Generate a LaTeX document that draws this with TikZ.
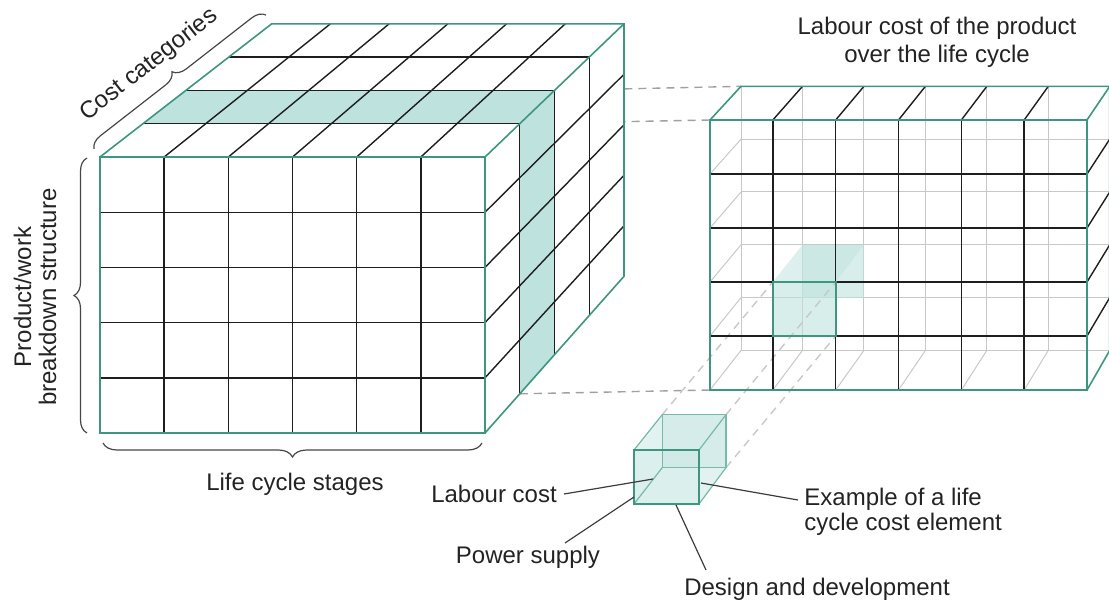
\documentclass[tikz,border=0pt]{standalone}
\usepackage{fontspec}
\setmainfont{Liberation Sans}
\usetikzlibrary{calc,decorations.pathreplacing}
\definecolor{edgegreen}{RGB}{62,150,128}
\definecolor{edgelight}{RGB}{120,185,168}
\definecolor{bandfill}{RGB}{190,226,222}
\definecolor{gridblack}{RGB}{30,30,30}
\definecolor{hidgrey}{RGB}{200,200,200}
\definecolor{dashgrey}{RGB}{160,160,160}
\definecolor{leadgrey}{RGB}{60,60,60}
\definecolor{bracegrey}{RGB}{70,70,70}
\definecolor{txt}{RGB}{35,35,35}
\begin{document}
\begin{tikzpicture}[x=0.5pt,y=-0.5pt,
  ge/.style={draw=edgegreen,line width=0.8pt},
  gel/.style={draw=edgelight,line width=0.6pt},
  gl/.style={draw=gridblack,line width=0.7pt},
  hl/.style={draw=hidgrey,line width=0.5pt},
  dsh/.style={draw=dashgrey,line width=0.7pt,dash pattern=on 4pt off 3pt},
  dshl/.style={draw=hidgrey,line width=0.7pt,dash pattern=on 4pt off 3pt},
  lead/.style={draw=leadgrey,line width=0.6pt},
  brc/.style={draw=bracegrey,line width=0.6pt,decorate,decoration={brace,amplitude=#1}},
  lbl/.style={font=\fontsize{12}{14}\selectfont,text=txt,inner sep=0pt}
]
\useasboundingbox (0,0) rectangle (1109,601);
\clip (0,0) rectangle (1109,601);
\coordinate (V) at (2120,-1410);
\def\rr{0.978}
% ---------- big cube ----------
\foreach \d/\s in {0/1,1/0.97875,2/0.9575,3/0.93625,4/0.915}{
  \coordinate (TL\d) at ($(V)!\s!(100,157)$);
  \coordinate (TR\d) at ($(V)!\s!(485,157)$);
  \coordinate (BR\d) at ($(V)!\s!(485,433)$);
}
% right cube key corners
\coordinate (RFTL) at (710,120);
\coordinate (RFBL) at (710,390);
\coordinate (RFTR) at (1087,120);
\coordinate (RFBR) at (1087,390);
\coordinate (RBTL) at ($(V)!\rr!(RFTL)$);
\coordinate (RBTR) at ($(V)!\rr!(RFTR)$);
\coordinate (RBBR) at ($(V)!\rr!(RFBR)$);
% dashed links big cube -> slice
\draw[dsh] (TR2) -- (RBTL);
\draw[dsh] (TR1) -- (RFTL);
\draw[dsh] (BR1) -- (RFBL);
\fill[white] (TL0) -- (TL4) -- (TR4) -- (BR4) -- (BR0) -- (TR0) -- cycle;
\fill[bandfill] (TL1) -- (TR1) -- (TR2) -- (TL2) -- cycle;
\fill[bandfill] (TR1) -- (BR1) -- (BR2) -- (TR2) -- cycle;
\foreach \i in {1,...,5}{
  \pgfmathsetmacro\xx{100+\i*385/6}
  \draw[gl] (\xx,157) -- ($(V)!0.915!(\xx,157)$);
}
\foreach \j in {1,...,4}{
  \pgfmathsetmacro\yy{157+\j*55.2}
  \draw[gl] (485,\yy) -- ($(V)!0.915!(485,\yy)$);
}
\foreach \d in {1,2,3}{
  \draw[gl] (TL\d) -- (TR\d) -- (BR\d);
}
\fill[white] (100,157) rectangle (485,433);
\foreach \i in {1,...,5}{
  \pgfmathsetmacro\xx{100+\i*385/6}
  \draw[gl] (\xx,157) -- (\xx,433);
}
\foreach \j in {1,...,4}{
  \pgfmathsetmacro\yy{157+\j*55.2}
  \draw[gl] (100,\yy) -- (485,\yy);
}
\draw[ge] (100,157) rectangle (485,433);
\draw[ge] (TL0) -- (TL4) -- (TR4) -- (BR4) -- (BR0);
\draw[ge] (TR0) -- (TR4);
% braces and labels of big cube
\draw[brc=6.5pt] (87,433) -- (87,158);
\draw[brc=7pt] (482,443) -- (103,443);
\draw[brc=6.5pt] (94,149) -- (266,15);
\node[lbl,rotate=90,align=center,font=\fontsize{12}{12.5}\selectfont] (pws) at (35,297) {Product/work\\breakdown structure};
\node[lbl] (lcs) at (295,484) {Life cycle stages};
\node[lbl,rotate=38] (cc) at (149,65) {Cost categories};
% ---------- right cube (slice) ----------
\foreach \i in {0,...,5}{
  \pgfmathsetmacro\xx{710+\i*377/6}
  \draw[hl] ($(V)!\rr!(\xx,120)$) -- ($(V)!\rr!(\xx,390)$);
}
\foreach \j in {1,...,5}{
  \pgfmathsetmacro\yy{120+\j*54}
  \draw[hl] ($(V)!\rr!(710,\yy)$) -- ($(V)!\rr!(1087,\yy)$);
  \draw[hl] (710,\yy) -- ($(V)!\rr!(710,\yy)$);
}
\foreach \i in {1,...,5}{
  \pgfmathsetmacro\xx{710+\i*377/6}
  \draw[hl] (\xx,390) -- ($(V)!\rr!(\xx,390)$);
}
% highlighted cell
\coordinate (HF1) at (772.83,282);
\coordinate (HF2) at (835.67,282);
\coordinate (HF3) at (835.67,336);
\coordinate (HF4) at (772.83,336);
\foreach \k in {1,2,3,4}{ \coordinate (HB\k) at ($(V)!\rr!(HF\k)$); }
\fill[bandfill,opacity=0.5] (HF1) -- (HB1) -- (HB2) -- (HF2) -- cycle;
\fill[bandfill,opacity=0.6] (HB1) -- (HB2) -- (HB3) -- (HB4) -- cycle;
\fill[bandfill,opacity=0.6] (HF1) -- (HF2) -- (HF3) -- (HF4) -- cycle;
% small cube corners
\coordinate (SF1) at (634,450);
\coordinate (SF2) at (699,450);
\coordinate (SF3) at (699,504);
\coordinate (SF4) at (634,504);
\foreach \k in {1,2,3,4}{ \coordinate (SB\k) at ($(V)!0.981!(SF\k)$); }
\draw[dshl] (SB1) -- (HF1);
\draw[dshl] (SB2) -- (HF2);
\draw[dshl] (SB3) -- (HF3);
% front grid of slice
\foreach \i in {1,...,5}{
  \pgfmathsetmacro\xx{710+\i*377/6}
  \draw[gl] (\xx,120) -- (\xx,390);
  \draw[gl] (\xx,120) -- ($(V)!\rr!(\xx,120)$);
}
\foreach \j in {1,...,4}{
  \pgfmathsetmacro\yy{120+\j*54}
  \draw[gl] (710,\yy) -- (1087,\yy);
  \draw[gl] (1087,\yy) -- ($(V)!\rr!(1087,\yy)$);
}
\draw[ge] (RFTL) rectangle (RFBR);
\draw[ge] (RFTL) -- (RBTL) -- (RBTR) -- (RBBR) -- (RFBR);
\draw[ge] (RFTR) -- (RBTR);
\draw[draw=edgegreen,line width=1.1pt] (HF1) rectangle (HF3);
% ---------- small cube ----------
\fill[bandfill,opacity=0.45] (SF1) -- (SB1) -- (SB2) -- (SB3) -- (SF3) -- (SF4) -- cycle;
\fill[bandfill,opacity=0.35] (SB1) -- (SB2) -- (SB3) -- (SB4) -- cycle;
\fill[bandfill,opacity=0.2] (SF1) -- (SF2) -- (SF3) -- (SF4) -- cycle;
\draw[gel] (SB1) -- (SB2) -- (SB3) -- (SB4) -- cycle;
\draw[gel] (SF1) -- (SB1) (SF2) -- (SB2) (SF3) -- (SB3) (SF4) -- (SB4);
\draw[ge] (SF1) -- (SF2) -- (SF3) -- (SF4) -- cycle;
% ---------- labels ----------
\node[lbl,align=center] (title) at (937,42) {Labour cost of the product\\over the life cycle};
\node[lbl] (lab) at (494,494) {Labour cost};
\node[lbl] (pow) at (528,557) {Power supply};
\node[lbl] (des) at (817,589) {Design and development};
\node[lbl,align=left,anchor=west,font=\fontsize{12}{12.5}\selectfont] (ex) at (804,512) {Example of a life\\cycle cost element};
\coordinate (labT) at (653,479);
\coordinate (labS) at (564,494);
\coordinate (powT) at (634,497);
\coordinate (powS) at (565,543);
\coordinate (desT) at (676,505);
\coordinate (desS) at (706,570);
\coordinate (exT) at (701,483);
\coordinate (exS) at (798,500);
\draw[lead] (labS) -- (labT);
\draw[lead] (powS) -- (powT);
\draw[lead] (desS) -- (desT);
\draw[lead] (exS) -- (exT);
\end{tikzpicture}
\end{document}
